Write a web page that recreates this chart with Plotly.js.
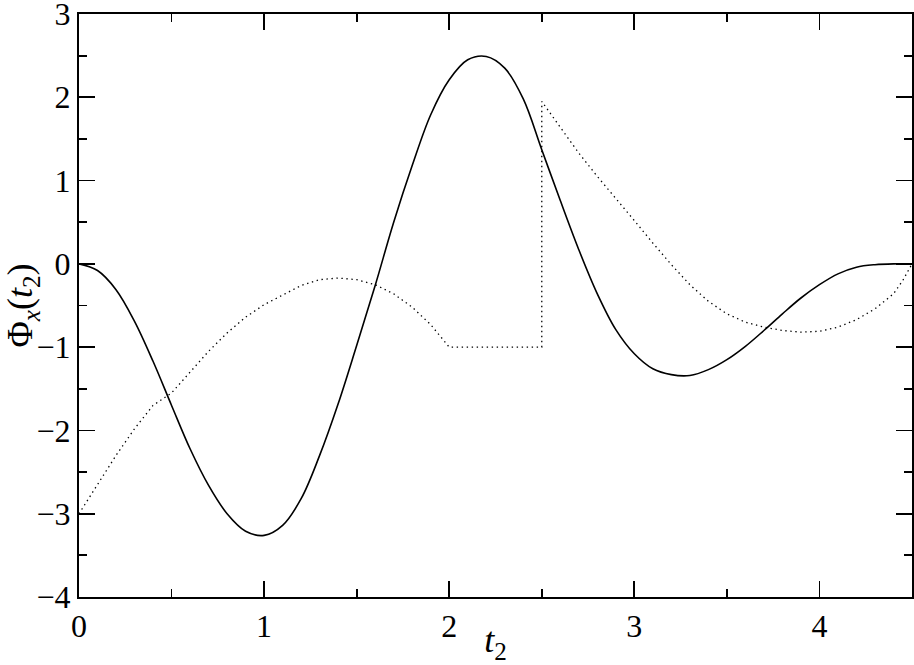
<!DOCTYPE html>
<html>
<head>
<meta charset="utf-8">
<script src="https://cdn.plot.ly/plotly-3.0.1.min.js"></script>
<style>
  body { margin: 0; background: #fff; }
  #chart { width: 914px; height: 665px; }
</style>
</head>
<body>
<div id="chart"></div>
<script>
// solid curve
var solidT = [0, 0.1, 0.2, 0.3, 0.4, 0.5, 0.6, 0.7, 0.8, 0.9,
  1.0, 1.1, 1.2, 1.3, 1.4, 1.5, 1.6, 1.7, 1.8, 1.9,
  2.0, 2.1, 2.2, 2.3, 2.4, 2.5, 2.6, 2.7, 2.8, 2.9,
  3.0, 3.1, 3.2, 3.3, 3.4, 3.5, 3.6, 3.7, 3.8, 3.9,
  4.0, 4.1, 4.2, 4.3, 4.4, 4.5];
var solidPhi = [0, -0.08, -0.31, -0.69, -1.17, -1.70, -2.22, -2.66, -3.00, -3.21,
  -3.26, -3.14, -2.82, -2.30, -1.68, -0.98, -0.26, 0.50, 1.18, 1.79,
  2.21, 2.45, 2.49, 2.35, 1.98, 1.37, 0.76, 0.17, -0.36, -0.79,
  -1.08, -1.26, -1.33, -1.34, -1.27, -1.15, -0.99, -0.80, -0.60, -0.41,
  -0.25, -0.12, -0.04, -0.01, 0, 0];

// dotted curve (flat at -1 between 2 and 2.5, then a jump)
var dotT = [0, 0.1, 0.2, 0.3, 0.4, 0.5, 0.6, 0.7, 0.8, 0.9,
  1.0, 1.1, 1.2, 1.3, 1.4, 1.5, 1.6, 1.7, 1.8, 1.9,
  2.0, 2.5, 2.5, 2.6, 2.7, 2.8, 2.9,
  3.0, 3.1, 3.2, 3.3, 3.4, 3.5, 3.6, 3.7, 3.8, 3.9,
  4.0, 4.1, 4.2, 4.3, 4.4, 4.45, 4.5];
var dotPhi = [-3.00, -2.65, -2.30, -1.98, -1.70, -1.55, -1.30, -1.05, -0.83, -0.64,
  -0.49, -0.37, -0.26, -0.19, -0.17, -0.19, -0.25, -0.36, -0.52, -0.73,
  -1.00, -1.00, 1.95, 1.64, 1.33, 1.05, 0.79,
  0.52, 0.25, -0.01, -0.25, -0.45, -0.60, -0.70, -0.76, -0.80, -0.82,
  -0.81, -0.76, -0.67, -0.54, -0.36, -0.20, 0.0];

var serif = "Liberation Serif";

var traces = [
  {
    x: solidT,
    y: solidPhi,
    type: "scatter",
    mode: "lines",
    line: { color: "#000", width: 1.6, shape: "spline", smoothing: 1 },
    hoverinfo: "skip"
  },
  {
    x: dotT,
    y: dotPhi,
    type: "scatter",
    mode: "lines",
    line: { color: "#000", width: 1.3, dash: "1.4px,3.6px" },
    hoverinfo: "skip"
  }
];

function axisStyle(range) {
  return {
    range: range,
    tick0: 0,
    dtick: 1,
    ticks: "inside",
    ticklen: 16,
    tickwidth: 1.8,
    tickcolor: "#000",
    showline: true,
    linecolor: "#000",
    linewidth: 2,
    mirror: "allticks",
    showgrid: false,
    zeroline: false,
    ticklabeloverflow: "allow",
    minor: { dtick: 0.5, ticks: "inside", ticklen: 8, tickwidth: 1.8, tickcolor: "#000" },
    tickfont: { family: serif, size: 32, color: "#000" }
  };
}

var layout = {
  width: 914,
  height: 665,
  margin: { l: 79, r: 2, t: 14, b: 68 },
  paper_bgcolor: "#fff",
  plot_bgcolor: "#fff",
  showlegend: false,
  xaxis: Object.assign(axisStyle([0, 4.5]), {
    title: { text: "<i>t</i><sub>2</sub>", font: { family: serif, size: 36, color: "#000" }, standoff: 3 }
  }),
  yaxis: Object.assign(axisStyle([-4, 3]), {
    title: { text: "Φ<sub><i>x</i></sub>(<i>t</i><sub>2</sub>)", font: { family: serif, size: 36, color: "#000" }, standoff: 1 }
  })
};

Plotly.newPlot("chart", traces, layout, { staticPlot: true });
</script>
</body>
</html>
